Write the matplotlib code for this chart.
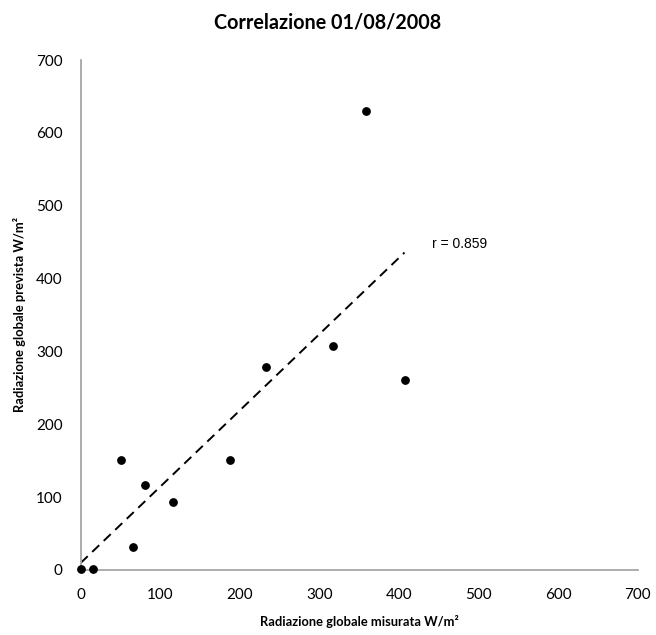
import numpy as np
import matplotlib
matplotlib.use("Agg")
import matplotlib.pyplot as plt

# Measured vs forecast global radiation (W/m²)
misurata = [0, 15, 51, 81, 116, 66, 188, 233, 317, 407, 358]
prevista = [2, 2, 151, 116, 93, 31, 151, 279, 308, 261, 630]
ticks = [0, 100, 200, 300, 400, 500, 600, 700]
titolo = "Correlazione 01/08/2008"
etichetta_x = "Radiazione globale misurata W/m²"
etichetta_y = "Radiazione globale prevista W/m²"
testo_r = "r = 0.859"

plt.rcParams["font.family"] = ["Lato", "DejaVu Sans"]

fig = plt.figure(figsize=(6.56, 6.35), dpi=100)
ax = fig.add_axes([0.123, 0.1024, 0.849, 0.8031])

x = np.array(misurata, dtype=float)
y = np.array(prevista, dtype=float)

# linear trend line over the measured range
slope, intercept = np.polyfit(x, y, 1)
xt = np.array([0, x.max()])
ax.plot(xt, slope * xt + intercept, color="black", lw=1.4,
        dashes=(5, 3.2), zorder=2)

ax.scatter(x, y, s=28, color="black", zorder=3, clip_on=False)

ax.set_xlim(ticks[0], ticks[-1])
ax.set_ylim(ticks[0], ticks[-1])
ax.set_xticks(ticks)
ax.set_yticks(ticks)
ax.tick_params(length=0, labelsize=11, pad=13, colors="black")

for side in ("top", "right"):
    ax.spines[side].set_visible(False)
for side in ("left", "bottom"):
    ax.spines[side].set_color("#a6a6a6")
    ax.spines[side].set_linewidth(1.3)

ax.set_xlabel(etichetta_x, fontsize=9.3, fontweight="bold", va="center")
ax.set_ylabel(etichetta_y, fontsize=9.3, fontweight="bold", va="center")
ax.xaxis.set_label_coords(0.5, -0.102)
ax.yaxis.set_label_coords(-0.11, 0.5)

fig.text(0.5, 0.964, titolo, ha="center", va="center",
         fontsize=14.2, fontweight="bold")

ax.text(441, 447, testo_r, ha="left", va="center", fontsize=10,
        family=["Liberation Sans", "DejaVu Sans"])

fig.savefig("out.png", dpi=100)
